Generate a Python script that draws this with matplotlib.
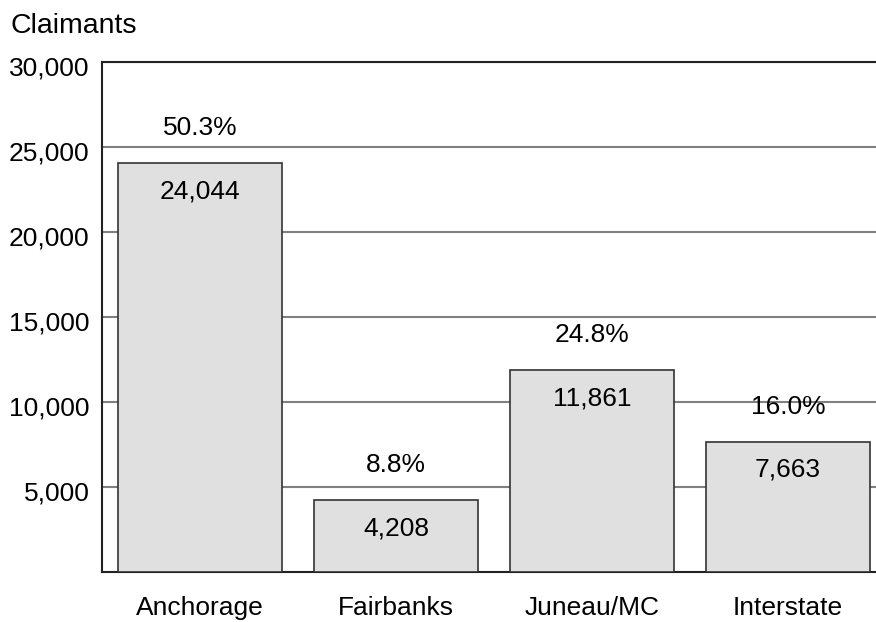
import matplotlib.pyplot as plt
import matplotlib.transforms as mtransforms
import numpy as np

plt.rcParams['font.family'] = ['Liberation Sans', 'DejaVu Sans']

regions = ["Anchorage", "Fairbanks", "Juneau/MC", "Interstate"]
claimants = [24044, 4208, 11861, 7663]
shares = ["50.3%", "8.8%", "24.8%", "16.0%"]
yticks = [5000, 10000, 15000, 20000, 25000, 30000]

fig = plt.figure(figsize=(8.76, 6.22), dpi=100)
ax = fig.add_axes([102/876, (622-572)/622, 1 - 102/876, 510/622])

x = np.arange(len(regions))
ax.bar(x, claimants, width=0.84, color="#e0e0e0", edgecolor="#333333", linewidth=1.2, zorder=3)

for xi, v, s in zip(x, claimants, shares):
    ax.annotate(f"{v:,}", (xi, v), xytext=(0, -28), textcoords="offset pixels",
                ha="center", va="center", fontsize=19, zorder=4)
    ax.annotate(s, (xi, v), xytext=(0, 35), textcoords="offset pixels",
                ha="center", va="center", fontsize=19, zorder=4)

ax.set_ylim(0, 30000)
ax.set_xlim(-0.5, 3.45)
ax.set_yticks(yticks)
ax.set_yticklabels([f"{t:,}" for t in yticks], fontsize=19)
ax.set_xticks(x)
ax.set_xticklabels(regions, fontsize=19)
ax.tick_params(axis="y", length=0, pad=9)
ax.tick_params(axis="x", length=0, pad=17)
# labels sit a little below their gridlines
shift = mtransforms.ScaledTranslation(0, -4/100, fig.dpi_scale_trans)
for lbl in ax.get_yticklabels():
    lbl.set_transform(lbl.get_transform() + shift)
ax.yaxis.grid(True, color="#808080", linewidth=1.5, zorder=0)
ax.set_axisbelow(True)
ax.spines["right"].set_visible(False)
for side in ["left", "bottom", "top"]:
    ax.spines[side].set_color("#222222")
    ax.spines[side].set_linewidth(1.5)

fig.text(10/876, 1 - 33/622, "Claimants", fontsize=20.5, ha="left", va="baseline")

plt.savefig("out.png", dpi=100)
